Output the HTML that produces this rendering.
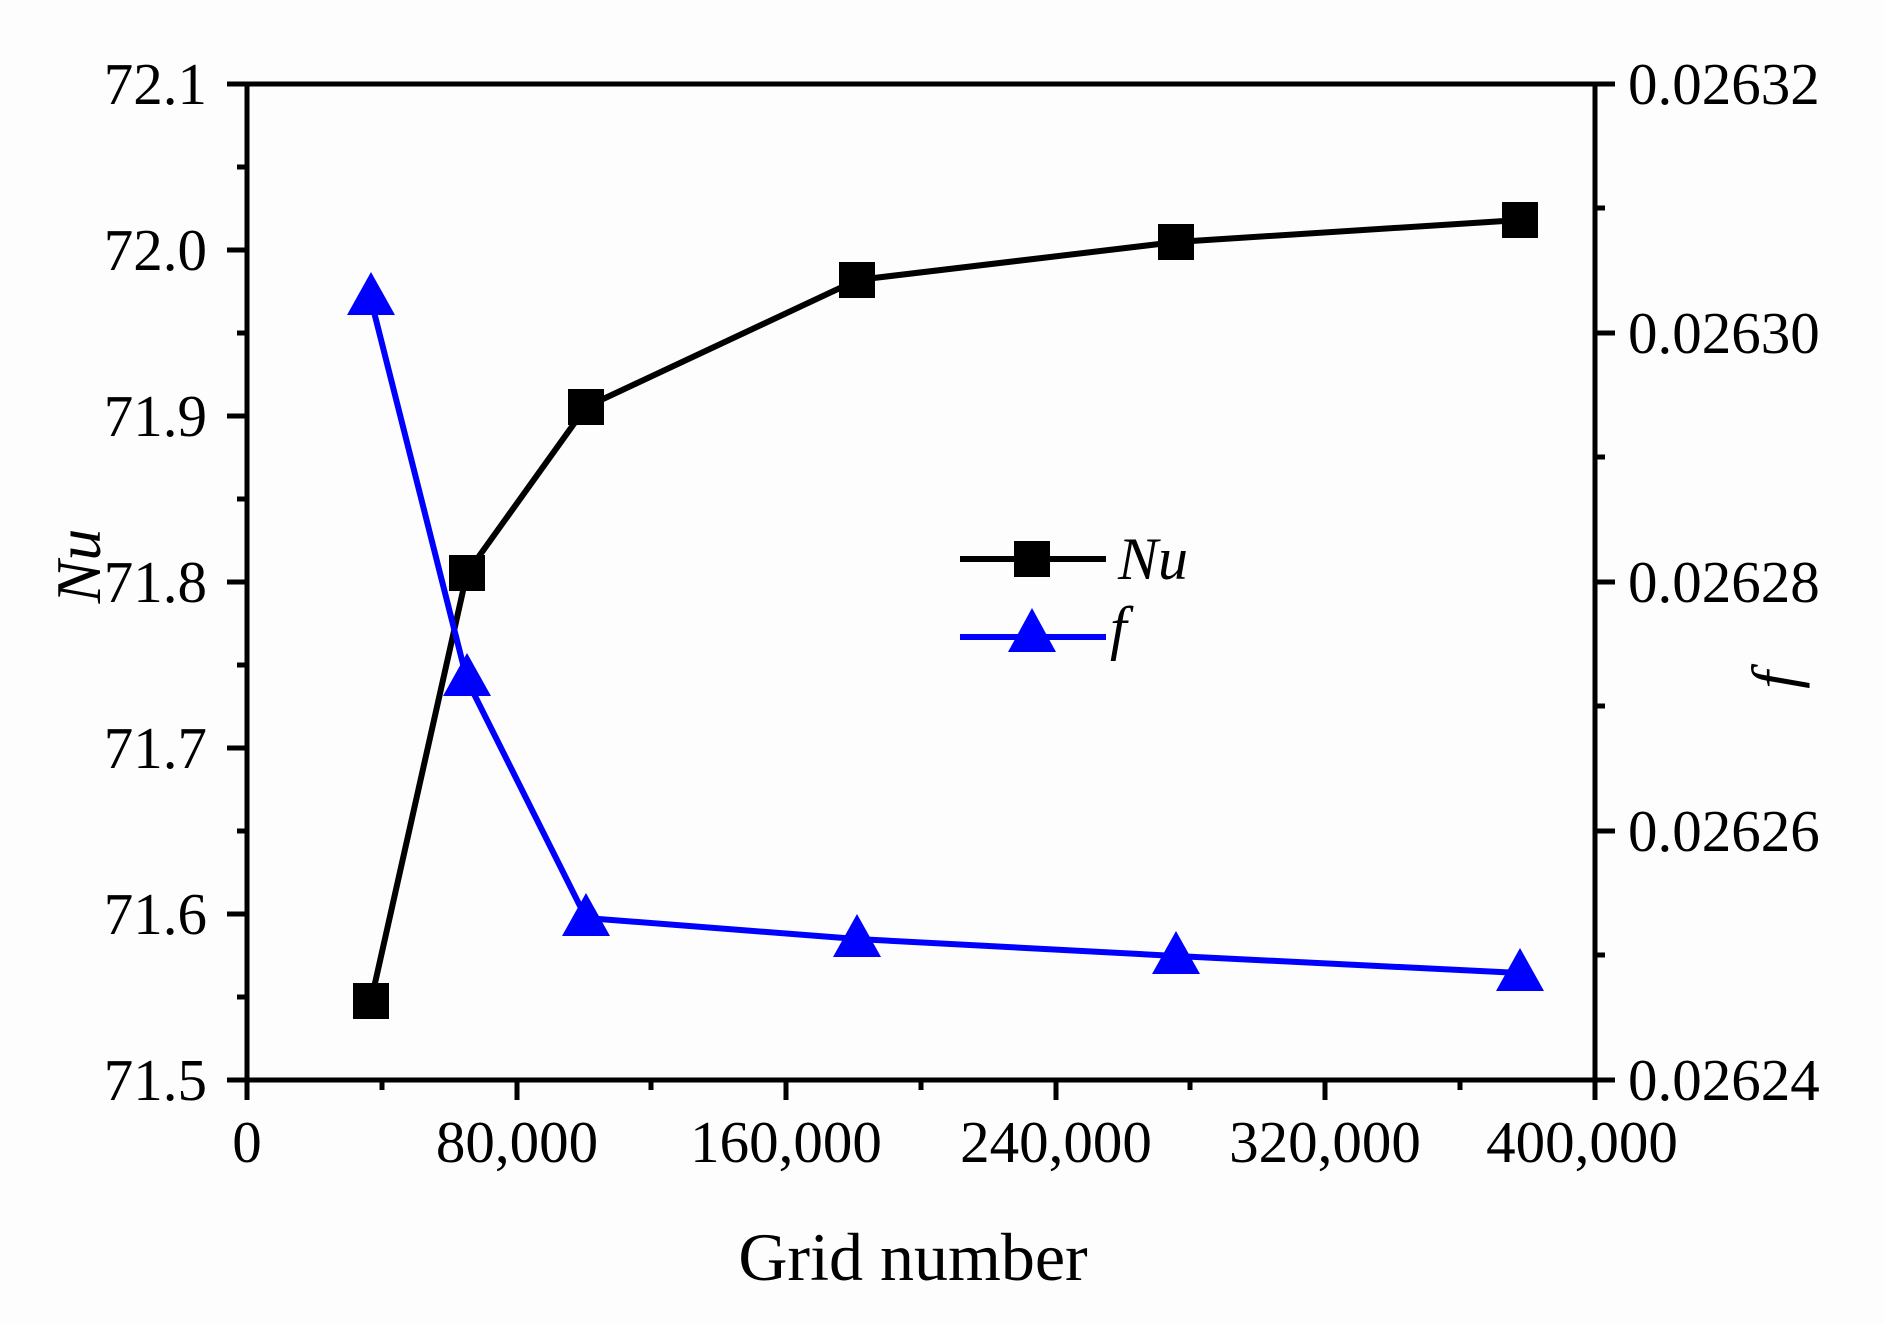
<!DOCTYPE html>
<html><head><meta charset="utf-8"><style>
html,body{margin:0;padding:0;background:#fff;}
svg{display:block;}
text{font-family:"Liberation Serif",serif;fill:#000;}
</style></head><body>
<svg width="1884" height="1324" viewBox="0 0 1884 1324" xmlns="http://www.w3.org/2000/svg">
<rect width="1884" height="1324" fill="#fdfdfd"/>
<polyline points="371,1001 467,573 586,407 857,280 1176,242 1520,220" fill="none" stroke="#000" stroke-width="6"/>
<polyline points="371,300 467,680 586,918 857,939 1176,956 1520,973" fill="none" stroke="#0000ff" stroke-width="6"/>
<g fill="#000">
<rect x="353" y="983" width="36" height="36"/>
<rect x="449" y="555" width="36" height="36"/>
<rect x="568" y="389" width="36" height="36"/>
<rect x="839" y="262" width="36" height="36"/>
<rect x="1158" y="224" width="36" height="36"/>
<rect x="1502" y="202" width="36" height="36"/>
</g>
<g fill="#0000ff">
<polygon points="371,272 347,315 395,315"/>
<polygon points="467,653 443,696 491,696"/>
<polygon points="586,893 562,936 610,936"/>
<polygon points="857,914 833,957 881,957"/>
<polygon points="1176,931 1152,974 1200,974"/>
<polygon points="1520,948 1496,991 1544,991"/>
</g>
<rect x="247" y="84" width="1348" height="996" fill="none" stroke="#000" stroke-width="5"/>
<g stroke="#000" stroke-width="5">
<line x1="227" y1="84" x2="247" y2="84"/><line x1="227" y1="250" x2="247" y2="250"/><line x1="227" y1="416" x2="247" y2="416"/><line x1="227" y1="582" x2="247" y2="582"/><line x1="227" y1="748" x2="247" y2="748"/><line x1="227" y1="914" x2="247" y2="914"/><line x1="227" y1="1080" x2="247" y2="1080"/>
<line x1="237" y1="167" x2="247" y2="167"/><line x1="237" y1="333" x2="247" y2="333"/><line x1="237" y1="499" x2="247" y2="499"/><line x1="237" y1="665" x2="247" y2="665"/><line x1="237" y1="831" x2="247" y2="831"/><line x1="237" y1="997" x2="247" y2="997"/>
<line x1="1595" y1="84" x2="1615" y2="84"/><line x1="1595" y1="333" x2="1615" y2="333"/><line x1="1595" y1="582" x2="1615" y2="582"/><line x1="1595" y1="831" x2="1615" y2="831"/><line x1="1595" y1="1080" x2="1615" y2="1080"/>
<line x1="1595" y1="208" x2="1605" y2="208"/><line x1="1595" y1="457" x2="1605" y2="457"/><line x1="1595" y1="706" x2="1605" y2="706"/><line x1="1595" y1="955" x2="1605" y2="955"/>
<line x1="247" y1="1080" x2="247" y2="1100"/><line x1="517" y1="1080" x2="517" y2="1100"/><line x1="786" y1="1080" x2="786" y2="1100"/><line x1="1056" y1="1080" x2="1056" y2="1100"/><line x1="1325" y1="1080" x2="1325" y2="1100"/><line x1="1595" y1="1080" x2="1595" y2="1100"/>
<line x1="382" y1="1080" x2="382" y2="1090"/><line x1="651" y1="1080" x2="651" y2="1090"/><line x1="921" y1="1080" x2="921" y2="1090"/><line x1="1190" y1="1080" x2="1190" y2="1090"/><line x1="1460" y1="1080" x2="1460" y2="1090"/>
</g>
<g font-size="59" text-anchor="end">
<text x="207" y="104">72.1</text>
<text x="207" y="270">72.0</text>
<text x="207" y="436">71.9</text>
<text x="207" y="602">71.8</text>
<text x="207" y="768">71.7</text>
<text x="207" y="934">71.6</text>
<text x="207" y="1100">71.5</text>
</g>
<g font-size="59">
<text x="1628" y="104">0.02632</text>
<text x="1628" y="353">0.02630</text>
<text x="1628" y="602">0.02628</text>
<text x="1628" y="851">0.02626</text>
<text x="1628" y="1100">0.02624</text>
</g>
<g font-size="59" text-anchor="middle">
<text x="247" y="1162">0</text>
<text x="517" y="1162">80,000</text>
<text x="786" y="1162">160,000</text>
<text x="1056" y="1162">240,000</text>
<text x="1325" y="1162">320,000</text>
<text x="1582" y="1162">400,000</text>
</g>
<text x="913" y="1280" font-size="68" text-anchor="middle">Grid number</text>
<text transform="translate(100,566) rotate(-90)" font-size="64" font-style="italic" text-anchor="middle">Nu</text>
<text transform="translate(1796,680) rotate(-90)" font-size="64" font-style="italic" text-anchor="middle">f</text>
<line x1="960" y1="559" x2="1106" y2="559" stroke="#000" stroke-width="6"/>
<rect x="1014" y="541" width="36" height="36" fill="#000"/>
<text x="1118" y="579" font-size="60" font-style="italic">Nu</text>
<line x1="960" y1="637" x2="1106" y2="637" stroke="#0000ff" stroke-width="6"/>
<polygon points="1032,608 1008,652 1056,652" fill="#0000ff"/>
<text x="1110" y="648" font-size="60" font-style="italic">f</text>
</svg>
</body></html>
